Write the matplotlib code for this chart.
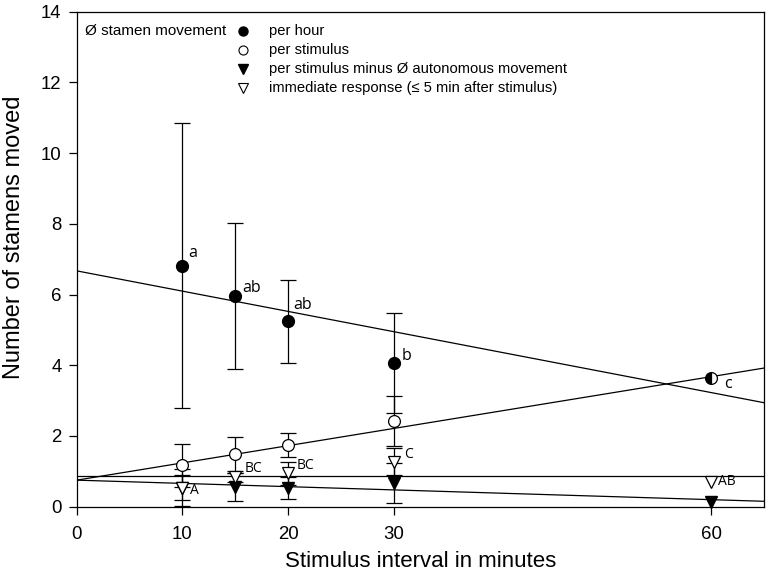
import numpy as np
import matplotlib
matplotlib.use("Agg")
import matplotlib.pyplot as plt

plt.rcParams['font.family'] = ['Liberation Sans', 'DejaVu Sans']

# stimulus intervals (minutes)
intervals = [10, 15, 20, 30, 60]

# mean stamen movement and error (symmetric, 60 min has none)
per_hour = [6.81, 5.95, 5.24, 4.06, 3.63]
per_hour_err = [4.03, 2.07, 1.18, 1.42]
per_stimulus = [1.17, 1.50, 1.75, 2.42, 3.63]
per_stimulus_err = [0.60, 0.48, 0.34, 0.71]
minus_auto = [0.54, 0.56, 0.53, 0.66, 0.12]
minus_auto_err = [0.35, 0.40, 0.31, 0.57]
immediate = [0.54, 0.83, 0.94, 1.27, 0.69]
immediate_err = [0.52, 0.13, 0.33, 0.38]

# significance letters
hour_letters = ['a', 'ab', 'ab', 'b', 'c']
immediate_letters = ['A', 'BC', 'BC', 'C', 'AB']

# regression lines (intercept, slope)
fit_hour = (6.67, -0.0574)
fit_stimulus = (0.75, 0.0488)
fit_minus_auto = (0.75, -0.0092)
autonomous_level = 0.86

legend_labels = ['per hour', 'per stimulus',
                 'per stimulus minus Ø autonomous movement',
                 'immediate response (≤ 5 min after stimulus)']

fig = plt.figure(figsize=(7.7, 5.74), dpi=100)
ax = fig.add_axes([0.0996, 0.1173, 0.893, 0.8623])

XMAX = 65
xs = np.array([0, XMAX])
for b0, b1 in [fit_hour, fit_stimulus, fit_minus_auto]:
    ax.plot(xs, b0 + b1 * xs, color='black', lw=0.9, zorder=1)
ax.axhline(autonomous_level, color='black', lw=0.9, zorder=1)

eb_kw = dict(fmt='none', ecolor='black', elinewidth=0.9, capsize=5.5,
             capthick=0.9, zorder=2)
n = len(per_hour_err)
ax.errorbar(intervals[:n], per_hour[:n], yerr=per_hour_err, **eb_kw)
ax.errorbar(intervals[:n], per_stimulus[:n], yerr=per_stimulus_err, **eb_kw)
ax.errorbar(intervals[:n], minus_auto[:n], yerr=minus_auto_err, **eb_kw)
ax.errorbar(intervals[:n], immediate[:n], yerr=immediate_err, **eb_kw)

ms = 8.5
# filled triangles first, open triangles on top
ax.plot(intervals, minus_auto, 'v', color='black', ms=ms, zorder=3,
        clip_on=False)
ax.plot(intervals, immediate, 'v', mfc='white', mec='black', mew=0.9,
        ms=ms, zorder=4, clip_on=False)
ax.plot(intervals[:-1], per_stimulus[:-1], 'o', mfc='white', mec='black',
        mew=0.9, ms=ms, zorder=4)
ax.plot(intervals[:-1], per_hour[:-1], 'o', color='black', ms=ms, zorder=5)
# 60 min: per hour equals per stimulus -> half filled
ax.plot(intervals[-1:], per_hour[-1:], 'o', mfc='black', mec='black',
        fillstyle='left', markerfacecoloralt='white', mew=0.9, ms=ms, zorder=5)

# letters
hour_off = [(6, 13), (7, 8), (5, 16), (8, 7), (13, -6)]
for x, y, t, (dx, dy) in zip(intervals, per_hour, hour_letters, hour_off):
    ax.annotate(t, (x, y), xytext=(dx * 0.72, dy * 0.72),
                textcoords='offset points', ha='left', va='center',
                fontsize=11.5, family=['Open Sans', 'DejaVu Sans'])
imm_off = [(8, -3), (9, 9), (8, 8), (10, 7), (7, 1)]
for x, y, t, (dx, dy) in zip(intervals, immediate, immediate_letters, imm_off):
    ax.annotate(t, (x, y), xytext=(dx * 0.72, dy * 0.72),
                textcoords='offset points', ha='left', va='center',
                fontsize=10, family=['Open Sans', 'DejaVu Sans'])

# legend drawn by hand
ax.text(0.012, 0.962, 'Ø stamen movement', transform=ax.transAxes,
        fontsize=11, va='center', ha='left')
leg_styles = [dict(marker='o', color='black'),
              dict(marker='o', mfc='white', mec='black', mew=0.8),
              dict(marker='v', color='black'),
              dict(marker='v', mfc='white', mec='black', mew=0.8)]
for i, (lab, st) in enumerate(zip(legend_labels, leg_styles)):
    yy = 0.962 - i * 0.039
    ax.plot([0.2415], [yy], transform=ax.transAxes, ls='none', ms=6.5, **st)
    ax.text(0.279, yy, lab, transform=ax.transAxes, fontsize=10.6,
            va='center', ha='left')

ax.set_xlim(0, XMAX)
ax.set_ylim(0, 14)
ax.set_xticks([0, 10, 20, 30, 60])
ax.set_yticks(np.arange(0, 15, 2))
ax.tick_params(direction='out', length=6, width=0.9, labelsize=13.4)
ax.tick_params(axis='y', pad=5)
ax.tick_params(axis='x', pad=8)
for sp in ax.spines.values():
    sp.set_linewidth(0.9)

ax.set_xlabel('Stimulus interval in minutes', fontsize=16, labelpad=6)
ax.set_ylabel('Number of stamens moved', fontsize=17, labelpad=8)
ax.yaxis.set_label_coords(-0.075, 0.545)

fig.savefig('out.png', dpi=100)
